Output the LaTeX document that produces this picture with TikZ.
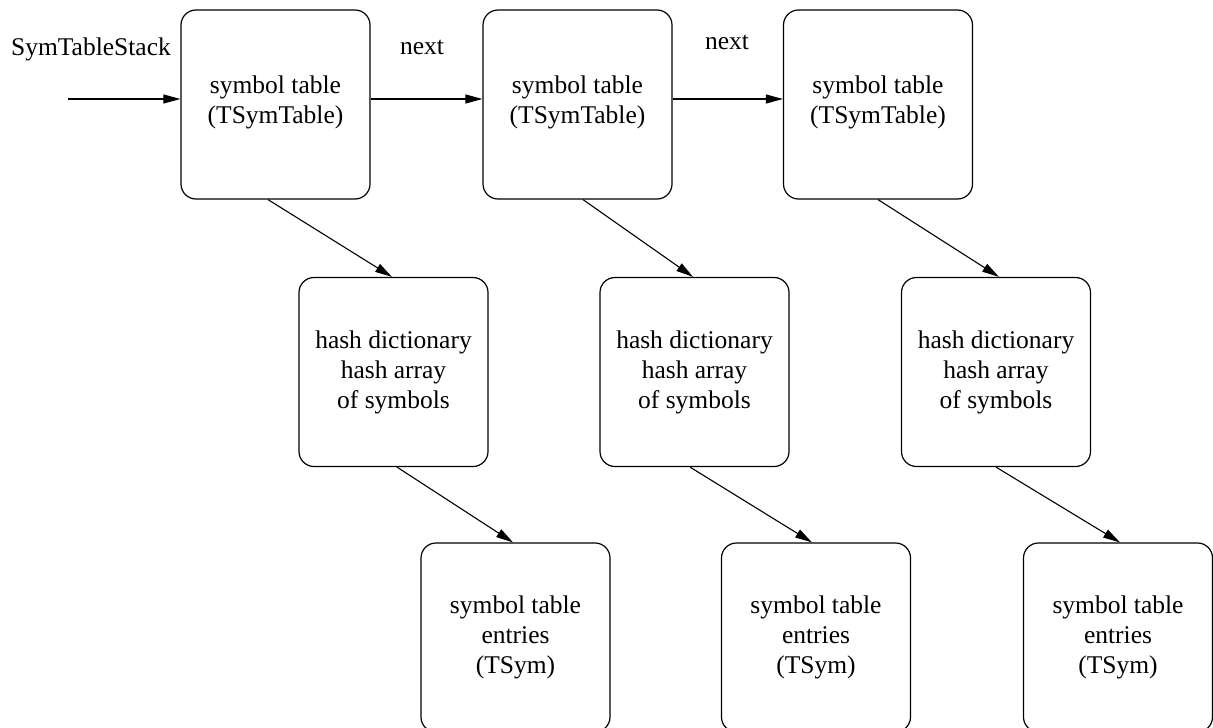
\documentclass[tikz,border=0pt]{standalone}
\usepackage{fontspec}
\setmainfont{Liberation Serif}
\usetikzlibrary{arrows.meta}
\begin{document}
\begin{tikzpicture}[x=1pt,y=-1pt,
  box/.style={draw, line width=1.2pt, rounded corners=15pt, minimum width=189pt, minimum height=189pt, inner sep=0pt, align=center, font=\fontsize{25.5}{30}\selectfont},
  lbl/.style={font=\fontsize{25.5}{30}\selectfont, inner sep=0pt},
  arr/.style={line width=1.1pt, -{Triangle[length=17pt,width=9pt]}}]
\useasboundingbox (0,0) rectangle (1213,728);
\fill[white] (0,0) rectangle (1213,728);
% top row
\node[box] (t1) at (275.5,104.5) {symbol table\\(TSymTable)\\[-20pt]};
\node[box] (t2) at (577.5,104.5) {symbol table\\(TSymTable)\\[-20pt]};
\node[box] (t3) at (878,104.5) {symbol table\\(TSymTable)\\[-20pt]};
% middle row
\node[box] (m1) at (393.5,372) {hash dictionary\\hash array\\of symbols};
\node[box] (m2) at (694.5,372) {hash dictionary\\hash array\\of symbols};
\node[box] (m3) at (996,372) {hash dictionary\\hash array\\of symbols};
% bottom row
\node[box] (b1) at (515.5,637.5) {symbol table\\entries\\(TSym)};
\node[box] (b2) at (816,637.5) {symbol table\\entries\\(TSym)};
\node[box] (b3) at (1118,637.5) {symbol table\\entries\\(TSym)};
% labels
\node[lbl] (stk) at (91,49) {SymTableStack};
\node[lbl] (n1) at (422,47) {next};
\node[lbl] (n2) at (727,42) {next};
\coordinate (start) at (68,99);
% connectors
\draw[arr] (start) -- ([yshift=5.5pt]t1.west);
\draw[arr] ([yshift=5.5pt]t1.east) -- ([yshift=5.5pt]t2.west);
\draw[arr] ([yshift=5.5pt]t2.east) -- ([yshift=5.5pt]t3.west);
\draw[arr] ([xshift=-7.5pt]t1.south) -- ([xshift=-1.5pt]m1.north);
\draw[arr] ([xshift=5.5pt]t2.south) -- ([xshift=-1.5pt]m2.north);
\draw[arr] (t3.south) -- ([xshift=3pt]m3.north);
\draw[arr] ([xshift=3.5pt]m1.south) -- ([xshift=-2.5pt]b1.north);
\draw[arr] ([xshift=-4.5pt]m2.south) -- ([xshift=-4pt]b2.north);
\draw[arr] (m3.south) -- ([xshift=2pt]b3.north);
\end{tikzpicture}
\end{document}
